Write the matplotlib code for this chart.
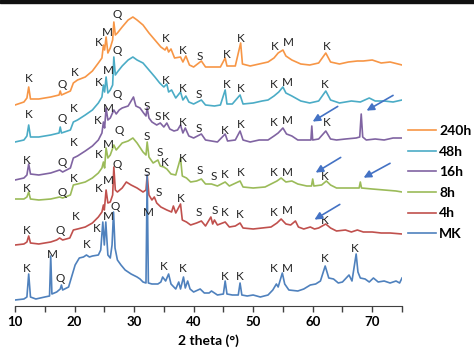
import matplotlib
matplotlib.use("Agg")
import matplotlib.pyplot as plt
from matplotlib.patches import Rectangle

plt.rcParams['font.family'] = ['Lato', 'DejaVu Sans']

# XRD patterns (2 theta, stacked intensity, arbitrary units)
mk_x = [10.0, 11.5, 12.0, 12.3, 12.6, 13.5, 15.0, 15.8, 16.0, 16.2, 17.0, 17.6, 17.8, 18.0, 19.0,
        19.6, 20.1, 20.8, 21.5, 22.0, 22.5, 23.0, 24.0, 24.4, 24.75, 25.0, 25.25, 25.6, 26.0, 26.3,
        26.55, 26.8, 27.2, 27.8, 28.5, 29.5, 30.5, 31.0, 31.5, 32.0, 32.2, 32.4, 33.0, 34.0, 34.5,
        34.8, 35.3, 35.8, 36.2, 37.0, 37.5, 37.8, 38.3, 38.6, 39.0, 39.4, 40.0, 41.1, 41.8, 42.6,
        43.0, 44.0, 45.0, 45.3, 45.6, 46.5, 47.5, 47.8, 48.1, 49.0, 50.0, 51.2, 52.5, 53.3, 53.9,
        54.2, 54.9, 55.3, 56.0, 57.5, 58.5, 59.6, 60.5, 61.3, 62.1, 62.7, 63.5, 64.3, 65.0, 66.1,
        66.6, 67.3, 67.6, 68.0, 68.8, 69.5, 70.2, 71.0, 72.0, 73.0, 74.0, 74.6, 75.0]
mk_y = [6, 7, 9, 32, 9, 7, 9, 10, 50, 12, 14, 17, 21, 16, 19,
        31, 41, 48, 49, 51, 49, 50, 51, 56, 84, 61, 84, 51, 48, 61,
        94, 58, 46, 41, 36, 32, 29, 27, 24, 23, 131, 23, 22, 22, 24,
        29, 25, 32, 22, 17, 24, 17, 29, 18, 25, 17, 14, 17, 13, 13,
        15, 11, 12, 25, 12, 11, 11, 23, 11, 10, 11, 9, 11, 16, 22,
        19, 33, 22, 16, 15, 17, 21, 22, 25, 40, 28, 27, 23, 24, 31,
        25, 52, 34, 28, 27, 24, 28, 24, 25, 23, 25, 23, 28]

h4_x = [10.0, 11.5, 12.0, 12.3, 12.6, 14.0, 16.0, 17.0, 17.5, 18.0, 19.2, 19.8, 20.5, 21.8, 23.0,
        24.0, 24.6, 24.85, 25.0, 25.3, 25.6, 26.0, 26.4, 26.6, 26.85, 27.2, 28.0, 28.7, 29.5, 30.5,
        31.5, 32.0, 32.2, 32.5, 33.0, 33.4, 33.8, 34.5, 35.5, 36.3, 36.6, 37.0, 37.8, 38.1, 38.8,
        39.5, 40.5, 41.3, 42.0, 42.9, 43.2, 43.5, 44.0, 45.3, 46.0, 47.0, 47.8, 48.3, 50.0, 51.5,
        53.0, 54.0, 54.7, 55.5, 56.3, 57.1, 57.6, 58.5, 59.6, 60.3, 61.0, 62.2, 63.0, 64.0, 65.5,
        66.5, 67.5, 68.5, 70.0, 71.5, 73.0, 75.0]
h4_y = [61, 62, 64, 70, 63, 62, 64, 66, 68, 66, 68, 76, 77, 79, 83,
        89, 94, 101, 96, 116, 103, 104, 111, 139, 116, 114, 118, 124, 121, 118,
        114, 116, 131, 111, 106, 109, 103, 99, 96, 94, 100, 93, 102, 86, 84,
        81, 83, 85, 80, 89, 82, 86, 81, 84, 79, 80, 83, 78, 77, 78,
        79, 83, 87, 82, 81, 85, 79, 77, 79, 77, 78, 82, 78, 75, 76,
        74, 76, 74, 74, 73, 73, 72]

h8_x = [10.0, 11.5, 12.0, 12.3, 12.6, 14.0, 16.0, 17.5, 18.0, 19.3, 19.8, 20.5, 21.8, 23.0, 24.0,
        24.6, 24.85, 25.05, 25.3, 25.6, 26.0, 26.6, 27.0, 28.0, 29.0, 29.8, 30.5, 31.5, 32.0, 32.2,
        32.5, 33.2, 34.0, 34.4, 35.0, 35.5, 36.2, 37.0, 37.8, 38.1, 38.8, 39.5, 40.5, 41.3, 42.0,
        43.0, 44.0, 45.3, 46.0, 47.8, 48.3, 50.0, 52.0, 53.0, 54.0, 54.7, 55.5, 56.5, 57.5, 59.0,
        59.8, 60.0, 60.2, 61.5, 62.3, 63.0, 64.0, 66.0, 67.8, 68.0, 68.2, 70.0, 72.0, 74.0, 75.0]
h8_y = [107, 107, 109, 114, 107, 106, 107, 109, 108, 111, 121, 122, 124, 128, 133,
        138, 144, 138, 158, 148, 151, 161, 156, 163, 165, 168, 163, 154, 151, 164,
        149, 143, 146, 140, 139, 137, 132, 131, 148, 130, 128, 124, 125, 127, 122,
        122, 120, 124, 120, 125, 119, 118, 119, 122, 125, 128, 124, 125, 122, 120,
        120, 127, 120, 121, 125, 121, 118, 118, 118, 124, 118, 117, 116, 115, 114]

h16_x = [10.0, 11.5, 12.0, 12.3, 12.6, 14.0, 16.0, 17.5, 18.0, 19.3, 19.8, 20.5, 21.8, 23.0, 24.0,
         24.6, 24.85, 25.05, 25.3, 25.6, 26.0, 26.6, 27.0, 27.5, 28.0, 29.0, 29.9, 30.3, 31.0, 31.6,
         32.0, 32.2, 32.5, 33.0, 33.8, 34.4, 35.0, 35.5, 36.0, 36.7, 37.3, 37.8, 38.2, 38.6, 39.2,
         40.0, 41.3, 42.0, 43.0, 44.0, 45.3, 45.7, 47.0, 47.8, 48.3, 49.5, 51.0, 52.5, 53.5, 54.2,
         55.0, 55.6, 56.5, 57.5, 59.0, 59.7, 59.85, 60.0, 61.0, 62.2, 63.0, 64.0, 65.5, 67.3, 67.9,
         68.15, 68.4, 69.0, 70.5, 72.0, 73.5, 75.0]
h16_y = [126, 128, 131, 142, 132, 131, 133, 136, 134, 138, 148, 150, 155, 160, 166,
         173, 184, 178, 198, 186, 188, 196, 192, 196, 198, 200, 209, 200, 198, 193,
         190, 198, 188, 184, 181, 183, 179, 183, 177, 175, 176, 181, 173, 178, 170,
         168, 172, 166, 165, 164, 172, 165, 166, 175, 166, 164, 166, 166, 170, 173,
         178, 172, 170, 166, 166, 166, 180, 166, 167, 175, 167, 166, 167, 168, 169,
         192, 169, 166, 167, 166, 168, 168]

h48_x = [10.0, 11.5, 12.0, 12.3, 12.6, 14.0, 16.0, 17.4, 17.6, 17.8, 19.3, 19.8, 20.5, 21.8, 23.0,
         24.0, 24.6, 24.85, 25.05, 25.3, 25.6, 26.0, 26.4, 26.6, 26.85, 27.2, 28.0, 29.0, 29.8, 30.5,
         31.5, 32.5, 33.5, 34.3, 35.0, 35.5, 35.8, 36.3, 37.0, 37.8, 38.2, 38.7, 39.2, 40.0, 41.3,
         42.0, 43.5, 44.5, 45.3, 45.6, 46.5, 47.8, 48.3, 50.0, 51.5, 52.5, 53.5, 54.3, 55.0, 55.5,
         56.5, 58.0, 59.5, 61.0, 62.2, 63.0, 64.5, 66.5, 68.0, 69.5, 70.5, 72.0, 73.5, 75.0]
h48_y = [164, 166, 170, 181, 169, 169, 171, 173, 179, 173, 176, 184, 186, 191, 196,
         203, 209, 221, 214, 229, 213, 216, 221, 249, 231, 234, 240, 246, 249, 246,
         243, 236, 229, 223, 219, 222, 214, 216, 208, 214, 206, 210, 204, 202, 206,
         201, 200, 201, 216, 202, 202, 211, 202, 203, 205, 206, 210, 214, 219, 213,
         210, 205, 203, 205, 215, 206, 203, 205, 204, 208, 205, 205, 204, 206]

h240_x = [10.0, 11.5, 12.0, 12.3, 12.6, 14.0, 16.0, 17.4, 17.6, 17.8, 19.3, 19.8, 20.5, 21.8, 23.0,
          24.0, 24.6, 24.85, 25.05, 25.3, 25.6, 26.0, 26.4, 26.6, 26.85, 27.2, 28.0, 29.0, 29.8, 30.5,
          31.5, 32.5, 33.5, 34.5, 35.2, 35.5, 35.8, 36.2, 36.8, 37.8, 38.2, 38.7, 39.3, 40.0, 41.3,
          42.0, 43.5, 44.5, 45.3, 45.6, 47.0, 47.9, 48.2, 49.5, 51.0, 52.5, 53.5, 54.2, 55.0, 55.5,
          56.5, 58.0, 59.5, 61.0, 62.2, 63.0, 64.5, 66.0, 67.5, 68.5, 70.0, 71.5, 73.0, 75.0]
h240_y = [201, 204, 208, 219, 207, 207, 209, 211, 215, 211, 215, 223, 226, 229, 235,
          243, 248, 261, 256, 269, 253, 258, 266, 284, 271, 273, 279, 286, 289, 286,
          281, 273, 266, 259, 256, 259, 254, 257, 248, 249, 244, 250, 241, 239, 245,
          239, 239, 239, 248, 240, 240, 263, 242, 240, 242, 244, 248, 253, 256, 250,
          246, 242, 241, 243, 253, 244, 242, 244, 245, 245, 246, 243, 244, 241]

# phase labels: (letter, 2 theta, height)
mk_lab = [('K', 12.0, 38), ('M', 16.2, 52), ('Q', 17.6, 28), ('K', 22.1, 61), ('K', 23.8, 77),
          ('M', 25.6, 89), ('Q', 26.8, 99), ('M', 32.35, 93), ('K', 35.0, 40), ('K', 38.1, 37),
          ('K', 45.3, 30), ('K', 47.8, 30), ('K', 53.4, 38), ('M', 55.7, 38), ('K', 62.1, 47),
          ('K', 67.1, 58)]
h4_lab = [('K', 12.0, 76), ('Q', 17.6, 75), ('K', 20.25, 89), ('K', 24.1, 117), ('M', 25.6, 126),
          ('Q', 27.1, 141), ('S', 32.2, 133), ('S', 34.2, 114), ('K', 37.9, 108), ('S', 40.9, 94),
          ('S', 43.6, 95), ('K', 45.3, 93), ('K', 47.8, 92), ('K', 53.4, 93), ('M', 55.7, 95),
          ('K', 62.1, 86)]
h8_lab = [('K', 12.0, 117), ('Q', 17.9, 114), ('K', 19.9, 128), ('K', 24.1, 151), ('M', 25.6, 162),
          ('Q', 27.5, 175), ('S', 32.2, 170), ('S', 34.4, 154), ('K', 35.2, 143), ('K', 38.1, 148),
          ('S', 41.1, 135), ('S', 43.4, 130), ('K', 45.3, 132), ('K', 48.0, 133), ('K', 53.4, 133),
          ('M', 55.7, 134), ('K', 62.1, 129)]
h16_lab = [('K', 12.0, 145), ('Q', 17.9, 144), ('K', 19.9, 163), ('K', 23.95, 186), ('M', 25.6, 198),
           ('Q', 27.1, 212), ('S', 32.2, 200), ('S', 33.9, 190), ('K', 35.4, 190), ('K', 38.1, 183),
           ('S', 40.9, 177), ('K', 45.3, 176), ('K', 48.0, 181), ('K', 53.5, 183), ('M', 55.7, 185),
           ('K', 62.3, 183)]
h48_lab = [('K', 12.35, 191), ('Q', 17.9, 188), ('K', 19.9, 197), ('K', 24.1, 224), ('M', 25.6, 235),
           ('Q', 27.1, 255), ('K', 35.4, 226), ('K', 38.1, 217), ('S', 40.9, 211), ('K', 45.5, 222),
           ('K', 48.0, 218), ('K', 53.4, 221), ('M', 55.7, 224), ('K', 62.1, 221)]
h240_lab = [('K', 12.35, 227), ('Q', 17.9, 221), ('K', 20.1, 234), ('K', 24.1, 263), ('M', 25.5, 273),
            ('Q', 27.1, 292), ('K', 35.4, 267), ('K', 38.2, 255), ('S', 41.1, 249), ('K', 45.5, 252),
            ('K', 48.0, 268), ('K', 53.7, 260), ('M', 55.9, 263), ('K', 62.3, 259)]

# arrows marking new peaks: (start 2theta, start h, end 2theta, end h)
arrows = [(64.6, 201, 59.6, 183), (73.9, 212, 68.65, 194),
          (65.1, 150, 60.1, 132), (73.4, 144, 68.15, 127),
          (64.95, 103, 59.9, 85)]

names = ['240h', '48h', '16h', '8h', '4h', 'MK']
colors = ['#F79646', '#4BACC6', '#8064A2', '#9BBB59', '#C0504D', '#4F81BD']
xs = [h240_x, h48_x, h16_x, h8_x, h4_x, mk_x]
ys = [h240_y, h48_y, h16_y, h8_y, h4_y, mk_y]
labs = [h240_lab, h48_lab, h16_lab, h8_lab, h4_lab, mk_lab]

fig = plt.figure(figsize=(4.74, 3.52), dpi=100)
ax = fig.add_axes([15/474, 1-306/352, 387/474, 301/352])

handles = []
for name, c, x, y in zip(names, colors, xs, ys):
    ln, = ax.plot(x, y, color=c, lw=1.2, label=name)
    handles.append(ln)

for lab in labs:
    for t, lx, ly in lab:
        ax.text(lx, ly, t, ha='center', va='center', fontsize=8.5, color='#222222')

for x0, y0, x1, y1 in arrows:
    ax.annotate('', xy=(x1, y1), xytext=(x0, y0),
                arrowprops=dict(arrowstyle='-|>', color='#4472C4', lw=1.2, mutation_scale=11))

ax.set_xlim(10, 75)
ax.set_ylim(0, 301)
ax.set_xticks(range(10, 80, 10))
ax.set_xticks(range(15, 80, 10), minor=True)
ax.tick_params(axis='x', which='both', direction='out', length=4, width=1, color='#404040')
ax.tick_params(axis='x', labelsize=9.5)
for tl in ax.get_xticklabels():
    tl.set_fontweight('bold')
ax.set_yticks([])
for s in ['left', 'right', 'top']:
    ax.spines[s].set_visible(False)
ax.spines['bottom'].set_color('#404040')
ax.set_xlabel('2 theta (°)', fontsize=10, fontweight='bold', labelpad=4)

fig.legend(handles=handles, loc='upper left', bbox_to_anchor=(408/474, 1-125/352),
           frameon=False, borderpad=0, borderaxespad=0, handlelength=2.0, handletextpad=0.25,
           labelspacing=0.62, prop={'weight': 'bold', 'size': 10})

fig.patches.append(Rectangle((0, 1-3/352), 1, 3/352, transform=fig.transFigure, color='#111111'))

fig.savefig('out.png', dpi=100)
